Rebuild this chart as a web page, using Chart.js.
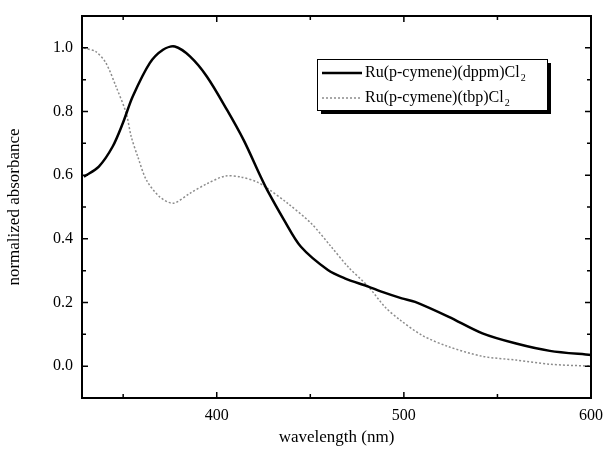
<!DOCTYPE html>
<html>
<head>
<meta charset="utf-8">
<script src="https://cdn.jsdelivr.net/npm/chart.js@4/dist/chart.umd.min.js"></script>
<style>
    html, body { margin: 0; padding: 0; background: #fff; }
    #wrap { width: 603px; height: 452px; }
</style>
</head>
<body>
<div id="wrap"><canvas id="chart" width="603" height="452"></canvas></div>
<script>
// values
const dppmX = [329, 337, 344.4, 349.8, 355.1, 364.2, 371.3, 377.6, 385.7, 394.7, 405.5, 414.4, 423.5, 427, 436, 445, 459.4, 468.4, 481, 488, 498.9, 506, 524, 542, 560, 578, 600];
const dppmY = [0.595, 0.627, 0.69, 0.763, 0.847, 0.952, 0.994, 1.004, 0.973, 0.91, 0.805, 0.71, 0.595, 0.553, 0.459, 0.375, 0.302, 0.276, 0.25, 0.234, 0.213, 0.202, 0.155, 0.103, 0.071, 0.048, 0.035];
const tbpX = [329, 335.4, 340.8, 346.2, 351.6, 354.3, 357.8, 362.4, 369.5, 376.7, 385.7, 394.7, 404.5, 413, 421.7, 427, 437.8, 450.4, 461.2, 470.2, 481, 489.9, 498, 509.7, 524, 542, 560, 578, 600];
const tbpY = [0.999, 0.988, 0.952, 0.878, 0.795, 0.721, 0.658, 0.585, 0.532, 0.512, 0.543, 0.573, 0.597, 0.594, 0.578, 0.559, 0.512, 0.449, 0.375, 0.312, 0.25, 0.186, 0.145, 0.097, 0.061, 0.031, 0.019, 0.006, 0.0];
const seriesNames = ['Ru(p-cymene)(dppm)Cl', 'Ru(p-cymene)(tbp)Cl'];
const xTicks = [400, 500, 600];
const xMinor = [350, 450, 550];
const yTicks = [0.0, 0.2, 0.4, 0.6, 0.8, 1.0];
const yMinor = [-0.1, 0.1, 0.3, 0.5, 0.7, 0.9, 1.1];

const serif = '"Liberation Serif", "DejaVu Serif", serif';

function toPoints(xs, ys) {
    return xs.map((x, i) => ({ x: x, y: ys[i] }));
}

// frame, inward ticks on all four sides, legend box
const framePlugin = {
    id: 'frame',
    afterDraw(chart) {
        const ctx = chart.ctx;
        const a = chart.chartArea;
        const xs = chart.scales.x;
        const ys = chart.scales.y;
        ctx.save();
        ctx.strokeStyle = '#000';
        ctx.lineWidth = 2;
        ctx.strokeRect(a.left, a.top, a.right - a.left, a.bottom - a.top);

        ctx.lineWidth = 1.5;
        const tick = (vals, len, horizontal) => {
            vals.forEach(v => {
                ctx.beginPath();
                if (horizontal) {
                    const px = xs.getPixelForValue(v);
                    if (px < a.left || px > a.right) return;
                    ctx.moveTo(px, a.bottom); ctx.lineTo(px, a.bottom - len);
                    ctx.moveTo(px, a.top); ctx.lineTo(px, a.top + len);
                } else {
                    const py = ys.getPixelForValue(v);
                    if (py < a.top || py > a.bottom) return;
                    ctx.moveTo(a.left, py); ctx.lineTo(a.left + len, py);
                    ctx.moveTo(a.right, py); ctx.lineTo(a.right - len, py);
                }
                ctx.stroke();
            });
        };
        tick(xTicks, 6, true);
        tick(xMinor, 4, true);
        tick(yTicks, 6, false);
        tick(yMinor, 4, false);

        // legend
        const bx = 317, by = 59, bw = 230, bh = 51;
        ctx.fillStyle = '#000';
        ctx.fillRect(bx + 4, by + 4, bw, bh);
        ctx.fillStyle = '#fff';
        ctx.fillRect(bx, by, bw, bh);
        ctx.lineWidth = 1;
        ctx.strokeStyle = '#000';
        ctx.strokeRect(bx + 0.5, by + 0.5, bw, bh);

        chart.data.datasets.forEach((ds, i) => {
            const ly = by + 14 + i * 25;
            ctx.beginPath();
            ctx.strokeStyle = ds.borderColor;
            ctx.lineWidth = ds.borderWidth;
            ctx.setLineDash(ds.borderDash || []);
            ctx.moveTo(bx + 5, ly);
            ctx.lineTo(bx + 45, ly);
            ctx.stroke();
            ctx.setLineDash([]);
            ctx.fillStyle = '#000';
            ctx.font = '16px ' + serif;
            ctx.textBaseline = 'middle';
            ctx.textAlign = 'left';
            ctx.fillText(seriesNames[i], bx + 48, ly);
            const w = ctx.measureText(seriesNames[i]).width;
            ctx.font = '10px ' + serif;
            ctx.fillText('2', bx + 48 + w + 1, ly + 5);
        });
        ctx.restore();
    }
};

new Chart(document.getElementById('chart').getContext('2d'), {
    type: 'scatter',
    data: {
        datasets: [{
            label: seriesNames[0],
            data: toPoints(dppmX, dppmY),
            showLine: true,
            borderColor: '#000',
            borderWidth: 2.5,
            pointRadius: 0,
            tension: 0.3
        }, {
            label: seriesNames[1],
            data: toPoints(tbpX, tbpY),
            showLine: true,
            borderColor: '#8c8c8c',
            borderWidth: 1.5,
            borderDash: [2, 2],
            pointRadius: 0,
            tension: 0.3
        }]
    },
    options: {
        responsive: false,
        animation: false,
        layout: { padding: { top: 16, right: 12, left: 0, bottom: 0 } },
        plugins: {
            legend: { display: false },
            tooltip: { enabled: false }
        },
        scales: {
            x: {
                type: 'linear',
                min: 328,
                max: 600,
                afterBuildTicks: s => { s.ticks = xTicks.map(v => ({ value: v })); },
                afterFit: s => { s.height = 54; s.paddingLeft = 0; s.paddingRight = 0; },
                grid: { display: false, drawTicks: false },
                border: { display: false },
                ticks: {
                    color: '#000',
                    font: { family: serif, size: 16 },
                    padding: 8,
                    maxRotation: 0
                },
                title: {
                    display: true,
                    text: 'wavelength (nm)',
                    color: '#000',
                    font: { family: serif, size: 17 },
                    padding: { top: 4 }
                }
            },
            y: {
                type: 'linear',
                min: -0.1,
                max: 1.1,
                afterBuildTicks: s => { s.ticks = yTicks.map(v => ({ value: v })); },
                afterFit: s => { s.width = 82; s.paddingTop = 0; s.paddingBottom = 0; },
                grid: { display: false, drawTicks: false },
                border: { display: false },
                ticks: {
                    color: '#000',
                    font: { family: serif, size: 16 },
                    padding: 9,
                    callback: v => v.toFixed(1)
                },
                title: {
                    display: true,
                    text: 'normalized absorbance',
                    color: '#000',
                    font: { family: serif, size: 17 },
                    padding: { bottom: 0 }
                }
            }
        }
    },
    plugins: [framePlugin]
});
</script>
</body>
</html>
